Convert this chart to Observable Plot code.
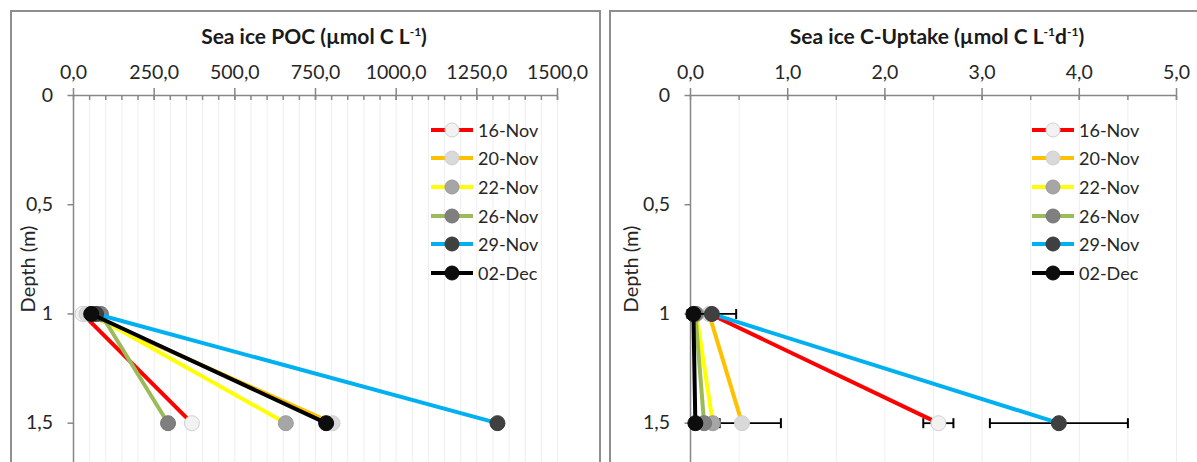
<!DOCTYPE html>
<html>
<head>
<meta charset="utf-8">
<script src="https://cdn.jsdelivr.net/npm/d3@7"></script>
<script src="https://cdn.jsdelivr.net/npm/@observablehq/plot@0.6"></script>
<style>
  html, body { margin: 0; padding: 0; background: #fff; }
  #wrap { position: relative; width: 1197px; height: 462px; overflow: hidden; background: #fff; font-family: Lato, "Open Sans", sans-serif; color: #262626; }
  .panel { position: absolute; box-sizing: border-box; border: 2px solid #8e8e8e; background: #fff; }
  .title { position: absolute; font-weight: bold; font-size: 21px; white-space: nowrap; transform: translateX(-50%); color: #1a1a1a; }
  .title sup { font-size: 12px; vertical-align: 8px; line-height: 0; }
  .ylab { position: absolute; font-size: 20px; white-space: nowrap; transform: translate(-50%, -50%) rotate(-90deg); }
  .plot { position: absolute; top: 0; }
  .legend { position: absolute; }
  .legend .row { position: absolute; display: flex; align-items: center; white-space: nowrap; font-size: 18px; }
  .legend svg { display: block; }
</style>
</head>
<body>
<div id="wrap"></div>
<script>
// ---------------- data ----------------
const series = ["16-Nov", "20-Nov", "22-Nov", "26-Nov", "29-Nov", "02-Dec"];
const depths = [1, 1.5];
const lineColors = ["#ff0000", "#ffc000", "#ffff00", "#9bbb59", "#00b0f0", "#000000"];
const markerFills = ["#f2f2f2", "#d9d9d9", "#a6a6a6", "#7f7f7f", "#404040", "#0d0d0d"];
const markerStrokes = ["#d0d0d0", "#cfcfcf", "#9a9a9a", "#777777", "#3a3a3a", "#0a0a0a"];

// Sea ice POC (µmol C L-1) at depth 1 m and 1.5 m
const poc1m = [28, 40, 55, 85, 70, 55];
const poc15m = [367, 803, 658, 293, 1314, 783];

// Sea ice C-Uptake (µmol C L-1 d-1) at depth 1 m and 1.5 m, with error
const upt1m = [0.20, 0.19, 0.06, 0.05, 0.22, 0.03];
const upt15m = [2.55, 0.53, 0.23, 0.14, 3.79, 0.05];
const uptErr1m = [0, 0, 0, 0, 0.25, 0];
const uptErr15m = [0.155, 0.40, 0.07, 0, 0.71, 0];

const pocTicks = [0, 250, 500, 750, 1000, 1250, 1500];
const uptTicks = [0, 1, 2, 3, 4, 5];
const depthTicks = [0, 0.5, 1, 1.5];

// ---------------- helpers ----------------
const comma1 = d => d.toFixed(1).replace(".", ",");
const depthFmt = d => String(d).replace(".", ",");
const axisColor = "#878787";
const gridColor = "#eeeeee";
const capSymbol = { draw(ctx, size) { const h = Math.sqrt(size / Math.PI); ctx.moveTo(0, -h); ctx.lineTo(0, h); } };

function rowsFor(v1, v15, e1, e15) {
  const rows = [];
  series.forEach((s, i) => {
    rows.push({ s, i, depth: depths[0], v: v1[i], e: e1 ? e1[i] : 0 });
    rows.push({ s, i, depth: depths[1], v: v15[i], e: e15 ? e15[i] : 0 });
  });
  return rows;
}

function makePlot({ rows, xDomain, ticks, minorStep, width, marginLeft, marginRight }) {
  const minor = d3.range(minorStep, xDomain[1] + minorStep / 2, minorStep);
  const marks = [
    Plot.ruleX(minor, { stroke: gridColor, strokeWidth: 1 }),
    Plot.ruleX([0], { stroke: axisColor, strokeWidth: 1.5 }),
    Plot.ruleY([0], { stroke: axisColor, strokeWidth: 1.5 }),
    Plot.axisX({ anchor: "top", ticks, tickSize: 8, tickPadding: 9, tickFormat: comma1, stroke: axisColor, strokeWidth: 1.5, fill: "#262626", fontSize: 19.5, label: null }),
    Plot.axisX({ anchor: "top", ticks, tickSize: -4, tickFormat: () => "", stroke: axisColor, strokeWidth: 1.5, label: null }),
    Plot.axisX({ anchor: "top", ticks: minor, tickSize: -4, tickFormat: () => "", stroke: axisColor, strokeWidth: 1.5, label: null }),
    Plot.axisY({ anchor: "left", ticks: depthTicks, tickSize: 5.5, tickPadding: 15, tickFormat: depthFmt, stroke: axisColor, strokeWidth: 1.5, fill: "#262626", fontSize: 19.5, label: null })
  ];
  series.forEach((s, i) => {
    const sr = rows.filter(d => d.i === i);
    const er = sr.filter(d => d.e > 0);
    if (er.length) {
      marks.push(Plot.link(er, { x1: d => d.v - d.e, x2: d => d.v + d.e, y1: "depth", y2: "depth", stroke: "#000", strokeWidth: 1.8 }));
      marks.push(Plot.dot(er, { x: d => d.v - d.e, y: "depth", r: 5, symbol: capSymbol, stroke: "#000", strokeWidth: 2, fill: "none" }));
      marks.push(Plot.dot(er, { x: d => d.v + d.e, y: "depth", r: 5, symbol: capSymbol, stroke: "#000", strokeWidth: 2, fill: "none" }));
    }
    marks.push(Plot.line(sr, { x: "v", y: "depth", stroke: lineColors[i], strokeWidth: 4 }));
    marks.push(Plot.dot(sr, { x: "v", y: "depth", r: 7.5, fill: markerFills[i], stroke: markerStrokes[i], strokeWidth: 1 }));
  });
  return Plot.plot({
    width, height: 462,
    marginTop: 95, marginBottom: 0, marginLeft, marginRight,
    x: { domain: xDomain, axis: null },
    y: { domain: [0, 1.68], reverse: true, axis: null },
    style: { fontFamily: "Lato, 'Open Sans', sans-serif", fontSize: "19.5px", background: "transparent", overflow: "visible", color: "#262626" },
    marks
  });
}

// ---------------- layout ----------------
const wrap = document.getElementById("wrap");

function addPanel(left, width) {
  const p = document.createElement("div");
  p.className = "panel";
  Object.assign(p.style, { left: left + "px", top: "10px", width: width + "px", height: "480px" });
  wrap.appendChild(p);
}
addPanel(10, 591);
addPanel(609, 600);

function addTitle(html, cx) {
  const t = document.createElement("div");
  t.className = "title";
  t.innerHTML = html;
  Object.assign(t.style, { left: cx + "px", top: "23px" });
  wrap.appendChild(t);
}
addTitle("Sea ice POC (µmol C L<sup>-1</sup>)", 314);
addTitle("Sea ice C-Uptake (µmol C L<sup>-1</sup>d<sup>-1</sup>)", 937);

function addYLabel(cx) {
  const t = document.createElement("div");
  t.className = "ylab";
  t.textContent = "Depth (m)";
  Object.assign(t.style, { left: cx + "px", top: "269px" });
  wrap.appendChild(t);
}
addYLabel(27);
addYLabel(630);

const pocPlot = makePlot({ rows: rowsFor(poc1m, poc15m), xDomain: [0, 1500], ticks: pocTicks, minorStep: 50, width: 600, marginLeft: 73, marginRight: 43 });
pocPlot.classList.add("plot");
pocPlot.style.left = "0px";
wrap.appendChild(pocPlot);

const uptPlot = makePlot({ rows: rowsFor(upt1m, upt15m, uptErr1m, uptErr15m), xDomain: [0, 5], ticks: uptTicks, minorStep: 0.5, width: 597, marginLeft: 90, marginRight: 21 });
uptPlot.classList.add("plot");
uptPlot.style.left = "600px";
wrap.appendChild(uptPlot);

function addLegend(lineLeft) {
  const lg = document.createElement("div");
  lg.className = "legend";
  series.forEach((s, i) => {
    const row = document.createElement("div");
    row.className = "row";
    Object.assign(row.style, { left: lineLeft + "px", top: (129.5 + i * 28.7 - 12) + "px", height: "24px" });
    row.innerHTML =
      `<svg width="48" height="24"><line x1="1" x2="43" y1="12" y2="12" stroke="${lineColors[i]}" stroke-width="4"/>` +
      `<circle cx="22" cy="12" r="7" fill="${markerFills[i]}" stroke="${markerStrokes[i]}" stroke-width="1"/></svg>` +
      `<span>${s}</span>`;
    lg.appendChild(row);
  });
  wrap.appendChild(lg);
}
addLegend(430);
addLegend(1031);
</script>
</body>
</html>
